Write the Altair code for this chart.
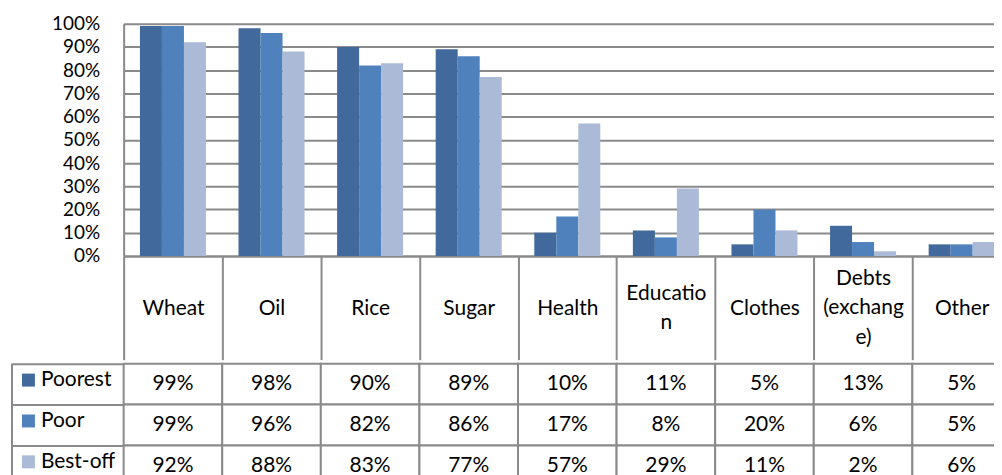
import json
import altair as alt
import pandas as pd

categories = ["Wheat", "Oil", "Rice", "Sugar", "Health", "Education",
              "Clothes", "Debts (exchange)", "Other"]
# how the category names wrap inside the narrow table header cells
header_lines = {"Education": ["Educatio", "n"],
                "Debts (exchange)": ["Debts", "(exchang", "e)"]}
groups = ["Poorest", "Poor", "Best-off"]
poorest = [99, 98, 90, 89, 10, 11, 5, 13, 5]
poor = [99, 96, 82, 86, 17, 8, 20, 6, 5]
best_off = [92, 88, 83, 77, 57, 29, 11, 2, 6]
y_ticks = list(range(0, 101, 10))
colors = ["#41699B", "#4F81BD", "#AABAD7"]

rows = []
for g, vals in zip(groups, [poorest, poor, best_off]):
    for c, v in zip(categories, vals):
        rows.append({"category": c, "group": g, "value": v, "label": f"{v}%"})
df = pd.DataFrame(rows)

GRID = "#8a8a8a"
FONT = "Lato"
W = 890
BAR_H = 233
HEAD_H = 104
ROW_H = 41
LEFT = 112
LINE_H = 29.5

expr = "datum.label"
for c, lines in header_lines.items():
    expr = f"datum.label == {json.dumps(c)} ? {json.dumps(lines)} : ({expr})"

two_line = [c for c, l in header_lines.items() if len(l) == 2]
three_line = [c for c, l in header_lines.items() if len(l) == 3]
baseline_cond = {
    "condition": [
        {"test": f"indexof({json.dumps(two_line)}, datum.value) >= 0", "value": "middle"},
        {"test": f"indexof({json.dumps(three_line)}, datum.value) >= 0", "value": "line-bottom"},
    ],
    "value": "line-top",
}

x_top = alt.X(
    "category:N", sort=categories,
    scale=alt.Scale(paddingInner=0, paddingOuter=0),
    axis=alt.Axis(title=None, tickBand="extent", tickSize=HEAD_H, tickColor=GRID,
                  tickWidth=2, domainColor=GRID, domainWidth=2, labelAngle=0,
                  labelBaseline=baseline_cond, labelPadding=HEAD_H / 2 - 14.6 - HEAD_H,
                  labelFontSize=21, labelFont=FONT, labelColor="black",
                  labelLineHeight=LINE_H, labelExpr=expr, labelOverlap=False),
)

bars = alt.Chart(df).mark_bar().encode(
    x=x_top,
    xOffset=alt.XOffset("group:N", sort=groups,
                        scale=alt.Scale(paddingOuter=0.74, paddingInner=0)),
    y=alt.Y("value:Q", scale=alt.Scale(domain=[0, 100], nice=False),
            axis=alt.Axis(title=None, values=y_ticks, labelExpr="datum.value + '%'",
                          ticks=False, domainColor=GRID, domainWidth=2,
                          gridColor=GRID, gridWidth=2, labelFontSize=19,
                          labelFont=FONT, labelColor="black", labelPadding=24,
                          minExtent=LEFT, maxExtent=LEFT)),
    color=alt.Color("group:N", sort=groups,
                    scale=alt.Scale(domain=groups, range=colors),
                    legend=alt.Legend(title=None, orient="none", legendX=-106, legendY=347,
                                      direction="vertical", symbolType="square",
                                      symbolSize=169, symbolStrokeWidth=0,
                                      symbolOpacity=1, labelFontSize=21,
                                      labelFont=FONT, labelColor="black",
                                      labelOffset=2, rowPadding=19, padding=0)),
).properties(width=W, height=BAR_H)

x_tab = alt.X("category:N", sort=categories,
              scale=alt.Scale(paddingInner=0, paddingOuter=0), axis=None)
y_tab = alt.Y("group:N", sort=groups,
              scale=alt.Scale(paddingInner=0, paddingOuter=0),
              axis=alt.Axis(title=None, labels=False, domain=False, tickBand="extent",
                            tickSize=LEFT, tickColor=GRID, tickWidth=2,
                            minExtent=LEFT, maxExtent=LEFT))

cells = alt.Chart(df).mark_rect(fill="white", stroke=GRID, strokeWidth=2).encode(
    x=x_tab, y=y_tab)
texts = alt.Chart(df).mark_text(font=FONT, fontSize=21, color="black").encode(
    x=x_tab, y=y_tab, text="label:N")
border = alt.Chart(pd.DataFrame({"k": [0]})).mark_rule(color=GRID, strokeWidth=2).encode(
    x=alt.value(-LEFT), y=alt.value(0), y2=alt.value(3 * ROW_H))

table = alt.layer(cells, texts, border).properties(width=W, height=3 * ROW_H)

chart = (
    alt.vconcat(bars, table, spacing=0)
    .resolve_scale(x="shared")
    .configure_view(stroke=None)
    .configure(font=FONT, padding={"left": 2, "top": 5, "right": -19, "bottom": 0})
)

chart.save("out.html", embed_options={"renderer": "svg", "actions": False})
